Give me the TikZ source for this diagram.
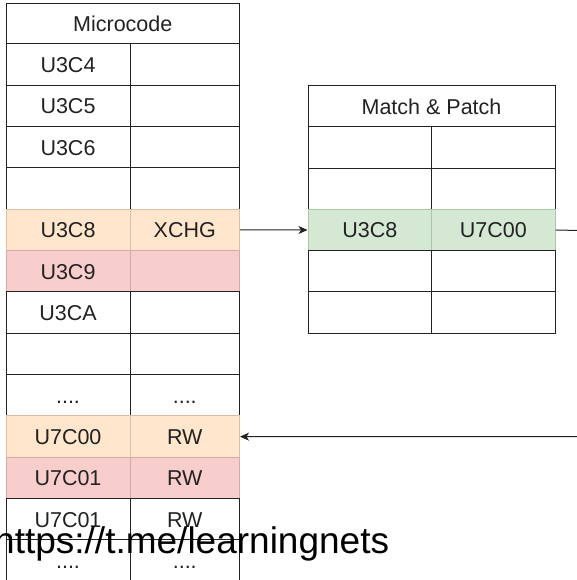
\documentclass[tikz,border=0pt]{standalone}
\usepackage{fontspec}
\setmainfont{Liberation Sans}
\usetikzlibrary{arrows.meta}
\definecolor{txt}{HTML}{222222}
\definecolor{ln}{HTML}{222222}
\definecolor{orfill}{HTML}{FFE6CC}
\definecolor{orline}{HTML}{D9BFA5}
\definecolor{rdfill}{HTML}{F8CECC}
\definecolor{rdline}{HTML}{D6A9A7}
\definecolor{grfill}{HTML}{D5E8D4}
\definecolor{grline}{HTML}{A9C9A3}
\newcommand{\fourdots}{....}
\tikzset{
  cell/.style={draw=ln, line width=1pt, fill=white, rectangle, inner sep=0pt,
    text=txt, font=\fontsize{21.5}{24}\selectfont, anchor=center,
    text height=15.4pt, text depth=0pt},
  orcell/.style={cell, fill=orfill, draw=orline},
  rdcell/.style={cell, fill=rdfill, draw=rdline},
  grcell/.style={cell, fill=grfill, draw=grline},
  lefta/.style={minimum width=124pt, minimum height=41.33pt},
  leftb/.style={minimum width=109.5pt, minimum height=41.33pt},
  mpa/.style={minimum width=123.7pt, minimum height=41.2pt},
  mpb/.style={minimum width=123.3pt, minimum height=41.2pt},
  conn/.style={draw=ln, line width=1pt},
  arr/.style={conn, -{Stealth[length=9pt,width=8pt,inset=2.5pt]}},
  wm/.style={inner sep=0pt, anchor=base west, text=black, font=\fontsize{37}{40}\selectfont}
}
\begin{document}
\begin{tikzpicture}[x=1pt,y=-1pt]
\clip (0,0) rectangle (577,580);
\useasboundingbox (0,0) rectangle (577,580);
\fill[white] (0,0) rectangle (577,580);
% Microcode table
\node[cell, minimum width=233.5pt, minimum height=40pt] (mchead) at (122.75,24) {Microcode};
\foreach \i/\a/\b/\s in {1/U3C4//cell, 2/U3C5//cell, 3/U3C6//cell, 4///cell,
  5/U3C8/XCHG/orcell, 6/U3C9//rdcell, 7/U3CA//cell, 8///cell,
  9/\fourdots/\fourdots/cell, 10/U7C00/RW/orcell, 11/U7C01/RW/rdcell, 12/U7C01/RW/cell,
  13/\fourdots/\fourdots/cell}{
  \node[\s, lefta] (mc\i a) at (68, {44+(\i-0.5)*41.33}) {\a};
  \node[\s, leftb] (mc\i b) at (184.75, {44+(\i-0.5)*41.33}) {\b};
}
% Match & Patch table
\node[cell, minimum width=247pt, minimum height=41pt] (mphead) at (431.5,106.5) {Match \& Patch};
\foreach \i/\a/\b/\s in {1///cell, 2///cell, 3/U3C8/U7C00/grcell, 4///cell, 5///cell}{
  \node[\s, mpa] (mp\i a) at (369.85, {127+(\i-0.5)*41.2}) {\a};
  \node[\s, mpb] (mp\i b) at (493.35, {127+(\i-0.5)*41.2}) {\b};
}
% connectors
\coordinate (outR) at (585,230.6);
\coordinate (inR) at (585,436.7);
\draw[arr] (mc5b.east) -- (mp3a.west);
\draw[conn] (mp3b.east) -- (outR);
\draw[arr] (inR) -- (mc10b.east);
% watermark
\node[wm] (wmark) at (-6,553) {https://t.me/learningnets};
\end{tikzpicture}
\end{document}
